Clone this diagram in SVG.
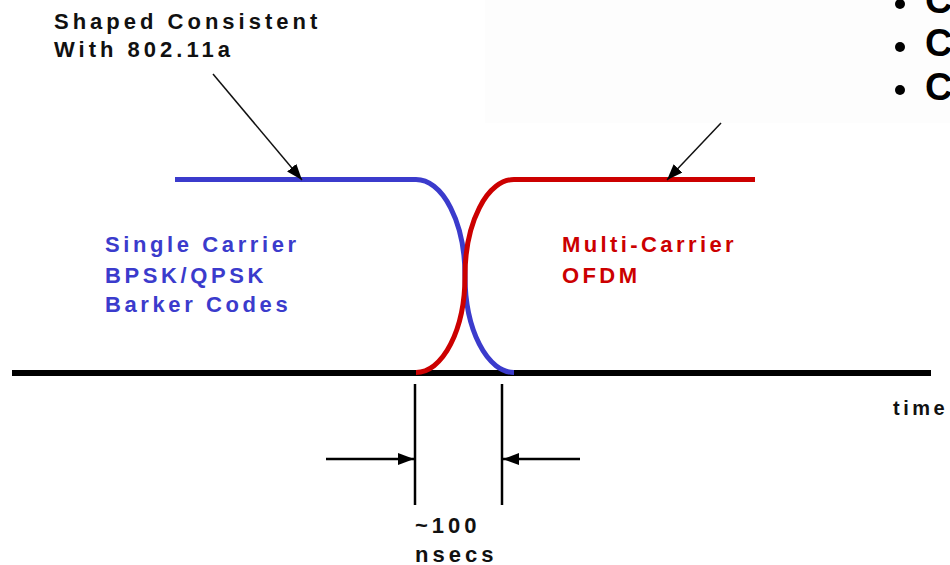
<svg xmlns="http://www.w3.org/2000/svg" width="950" height="565" viewBox="0 0 950 565">
<style>
text{font-family:"Liberation Sans",Arial,sans-serif;font-weight:bold;font-size:22px}
.blk{fill:#111}
.blu{fill:#3b3bcc}
.red{fill:#cc0000}
.thin{stroke:#111;stroke-width:1.5;fill:none}
.dim{stroke:#000;stroke-width:2.5;fill:none}
.cv{fill:none;stroke-width:5}
</style>
<defs>
<marker id="ah" markerUnits="userSpaceOnUse" markerWidth="16" markerHeight="12" refX="16" refY="6" orient="auto">
<path d="M0,0 L16,6 L0,12 Z" fill="#000"/>
</marker>
</defs>
<rect width="950" height="565" fill="#fff"/>
<g id="bullets">
<rect x="485" y="0" width="465" height="123" fill="#fdfdfd"/>
<circle cx="900" cy="4" r="5" fill="#000"/>
<circle cx="900" cy="47" r="5" fill="#000"/>
<circle cx="900" cy="90" r="5" fill="#000"/>
<text x="925" y="13" style="font-size:38px" fill="#000">C</text>
<text x="925" y="56" style="font-size:38px" fill="#000">C</text>
<text x="925" y="100" style="font-size:38px" fill="#000">C</text>
</g>
<g id="axis">
<line x1="12" y1="373" x2="931" y2="373" stroke="#000" stroke-width="6"/>
<text x="893" y="415" class="blk" style="font-size:20px;letter-spacing:3.5px">time</text>
</g>
<g id="single-carrier">
<path d="M175,179.5 L416,179.5 A49,96.5 0 0 1 465,276 A49,96.5 0 0 0 514,372.5" class="cv" stroke="#3b3bcc"/>
<text class="blu" style="letter-spacing:3.6px"><tspan x="105" y="252">Single Carrier</tspan><tspan x="105" y="283">BPSK/QPSK</tspan><tspan x="105" y="312">Barker Codes</tspan></text>
</g>
<g id="multi-carrier">
<path d="M416,372.5 A49,96.5 0 0 0 465,276" class="cv" stroke="#cc0000"/>
<path d="M465,276 A49,96.5 0 0 1 514,179.5 L755,179.5" class="cv" stroke="#cc0000"/>
<text class="red" style="letter-spacing:3.4px"><tspan x="562" y="252">Multi-Carrier</tspan><tspan x="562" y="283">OFDM</tspan></text>
</g>
<g id="shaped-label">
<text class="blk" style="letter-spacing:4px"><tspan x="54" y="29">Shaped Consistent</tspan><tspan x="54" y="57">With 802.11a</tspan></text>
</g>
<g id="duration">
<line x1="415" y1="384" x2="415" y2="505" class="dim"/>
<line x1="502" y1="384" x2="502" y2="505" class="dim"/>
<text class="blk" style="letter-spacing:4px"><tspan x="415" y="533">~100</tspan><tspan x="415" y="562">nsecs</tspan></text>
</g>
<g id="connectors">
<line x1="213" y1="74" x2="302" y2="180" class="thin" marker-end="url(#ah)"/>
<line x1="721" y1="123" x2="667" y2="180" class="thin" marker-end="url(#ah)"/>
<line x1="326" y1="459" x2="414" y2="459" class="dim" marker-end="url(#ah)"/>
<line x1="580" y1="459" x2="503" y2="459" class="dim" marker-end="url(#ah)"/>
</g>
</svg>
